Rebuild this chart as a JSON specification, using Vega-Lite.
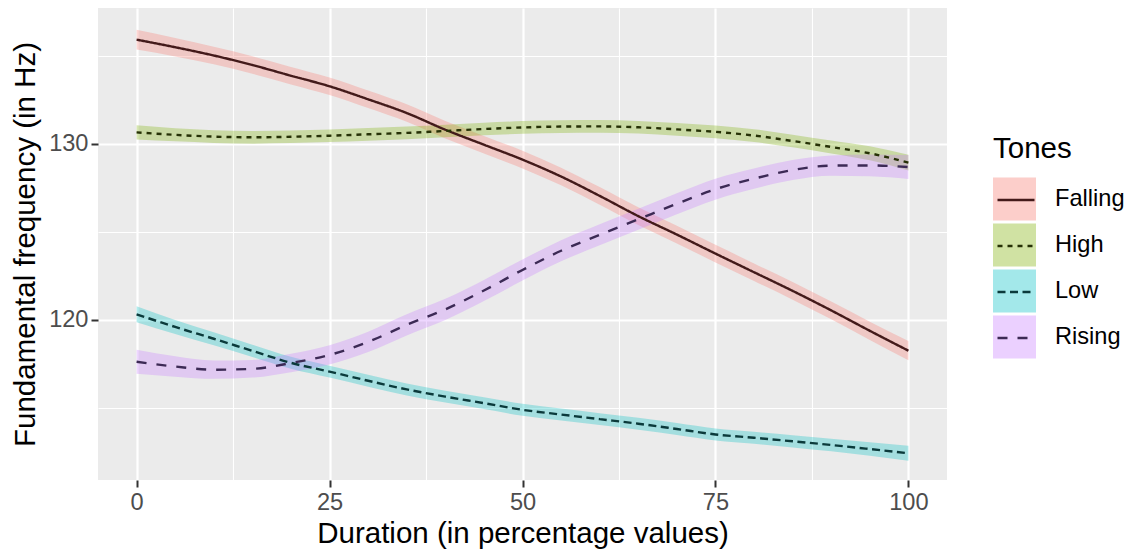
{
  "$schema": "https://vega.github.io/schema/vega-lite/v6.json",
  "width": 849,
  "height": 472,
  "autosize": {"type": "none"},
  "padding": {"left": 98, "top": 8, "right": 180, "bottom": 74},
  "background": "white",
  "config": {
    "font": "Liberation Sans",
    "view": {"fill": "#EBEBEB", "stroke": null}
  },
  "data": {
    "values": [
      {"tone": "Falling", "pct": 0, "f0": 135.93, "lo": 135.37, "hi": 136.49},
      {"tone": "Falling", "pct": 5, "f0": 135.50, "lo": 134.98, "hi": 136.02},
      {"tone": "Falling", "pct": 10, "f0": 135.03, "lo": 134.53, "hi": 135.53},
      {"tone": "Falling", "pct": 15, "f0": 134.49, "lo": 133.99, "hi": 134.99},
      {"tone": "Falling", "pct": 20, "f0": 133.88, "lo": 133.38, "hi": 134.38},
      {"tone": "Falling", "pct": 25, "f0": 133.28, "lo": 132.78, "hi": 133.78},
      {"tone": "Falling", "pct": 30, "f0": 132.54, "lo": 132.04, "hi": 133.04},
      {"tone": "Falling", "pct": 35, "f0": 131.76, "lo": 131.26, "hi": 132.26},
      {"tone": "Falling", "pct": 40, "f0": 130.81, "lo": 130.31, "hi": 131.31},
      {"tone": "Falling", "pct": 45, "f0": 129.96, "lo": 129.46, "hi": 130.46},
      {"tone": "Falling", "pct": 50, "f0": 129.11, "lo": 128.61, "hi": 129.61},
      {"tone": "Falling", "pct": 55, "f0": 128.15, "lo": 127.65, "hi": 128.65},
      {"tone": "Falling", "pct": 60, "f0": 127.05, "lo": 126.55, "hi": 127.55},
      {"tone": "Falling", "pct": 65, "f0": 125.90, "lo": 125.40, "hi": 126.40},
      {"tone": "Falling", "pct": 70, "f0": 124.85, "lo": 124.35, "hi": 125.35},
      {"tone": "Falling", "pct": 75, "f0": 123.77, "lo": 123.27, "hi": 124.27},
      {"tone": "Falling", "pct": 80, "f0": 122.71, "lo": 122.21, "hi": 123.21},
      {"tone": "Falling", "pct": 85, "f0": 121.65, "lo": 121.15, "hi": 122.15},
      {"tone": "Falling", "pct": 90, "f0": 120.54, "lo": 120.04, "hi": 121.04},
      {"tone": "Falling", "pct": 95, "f0": 119.38, "lo": 118.86, "hi": 119.90},
      {"tone": "Falling", "pct": 100, "f0": 118.25, "lo": 117.70, "hi": 118.80},

      {"tone": "High", "pct": 0, "f0": 130.66, "lo": 130.26, "hi": 131.06},
      {"tone": "High", "pct": 5, "f0": 130.52, "lo": 130.15, "hi": 130.89},
      {"tone": "High", "pct": 10, "f0": 130.42, "lo": 130.06, "hi": 130.78},
      {"tone": "High", "pct": 15, "f0": 130.38, "lo": 130.02, "hi": 130.74},
      {"tone": "High", "pct": 20, "f0": 130.41, "lo": 130.05, "hi": 130.77},
      {"tone": "High", "pct": 25, "f0": 130.47, "lo": 130.11, "hi": 130.83},
      {"tone": "High", "pct": 30, "f0": 130.55, "lo": 130.19, "hi": 130.91},
      {"tone": "High", "pct": 35, "f0": 130.63, "lo": 130.27, "hi": 130.99},
      {"tone": "High", "pct": 40, "f0": 130.74, "lo": 130.38, "hi": 131.10},
      {"tone": "High", "pct": 45, "f0": 130.85, "lo": 130.49, "hi": 131.21},
      {"tone": "High", "pct": 50, "f0": 130.94, "lo": 130.58, "hi": 131.30},
      {"tone": "High", "pct": 55, "f0": 130.99, "lo": 130.63, "hi": 131.35},
      {"tone": "High", "pct": 60, "f0": 131.00, "lo": 130.64, "hi": 131.36},
      {"tone": "High", "pct": 65, "f0": 130.95, "lo": 130.59, "hi": 131.31},
      {"tone": "High", "pct": 70, "f0": 130.83, "lo": 130.47, "hi": 131.19},
      {"tone": "High", "pct": 75, "f0": 130.69, "lo": 130.33, "hi": 131.05},
      {"tone": "High", "pct": 80, "f0": 130.48, "lo": 130.12, "hi": 130.84},
      {"tone": "High", "pct": 85, "f0": 130.17, "lo": 129.81, "hi": 130.53},
      {"tone": "High", "pct": 90, "f0": 129.83, "lo": 129.46, "hi": 130.20},
      {"tone": "High", "pct": 95, "f0": 129.47, "lo": 129.07, "hi": 129.87},
      {"tone": "High", "pct": 100, "f0": 128.94, "lo": 128.49, "hi": 129.39},

      {"tone": "Low", "pct": 0, "f0": 120.32, "lo": 119.87, "hi": 120.77},
      {"tone": "Low", "pct": 5, "f0": 119.60, "lo": 119.20, "hi": 120.00},
      {"tone": "Low", "pct": 10, "f0": 118.93, "lo": 118.56, "hi": 119.30},
      {"tone": "Low", "pct": 15, "f0": 118.24, "lo": 117.89, "hi": 118.59},
      {"tone": "Low", "pct": 20, "f0": 117.56, "lo": 117.22, "hi": 117.90},
      {"tone": "Low", "pct": 25, "f0": 117.06, "lo": 116.72, "hi": 117.40},
      {"tone": "Low", "pct": 30, "f0": 116.54, "lo": 116.20, "hi": 116.88},
      {"tone": "Low", "pct": 35, "f0": 116.05, "lo": 115.71, "hi": 116.39},
      {"tone": "Low", "pct": 40, "f0": 115.64, "lo": 115.30, "hi": 115.98},
      {"tone": "Low", "pct": 45, "f0": 115.27, "lo": 114.93, "hi": 115.61},
      {"tone": "Low", "pct": 50, "f0": 114.89, "lo": 114.55, "hi": 115.23},
      {"tone": "Low", "pct": 55, "f0": 114.62, "lo": 114.28, "hi": 114.96},
      {"tone": "Low", "pct": 60, "f0": 114.36, "lo": 114.02, "hi": 114.70},
      {"tone": "Low", "pct": 65, "f0": 114.10, "lo": 113.76, "hi": 114.44},
      {"tone": "Low", "pct": 70, "f0": 113.80, "lo": 113.46, "hi": 114.14},
      {"tone": "Low", "pct": 75, "f0": 113.49, "lo": 113.15, "hi": 113.83},
      {"tone": "Low", "pct": 80, "f0": 113.30, "lo": 112.96, "hi": 113.64},
      {"tone": "Low", "pct": 85, "f0": 113.10, "lo": 112.75, "hi": 113.45},
      {"tone": "Low", "pct": 90, "f0": 112.89, "lo": 112.53, "hi": 113.25},
      {"tone": "Low", "pct": 95, "f0": 112.66, "lo": 112.28, "hi": 113.04},
      {"tone": "Low", "pct": 100, "f0": 112.42, "lo": 112.00, "hi": 112.84},

      {"tone": "Rising", "pct": 0, "f0": 117.62, "lo": 116.94, "hi": 118.30},
      {"tone": "Rising", "pct": 5, "f0": 117.35, "lo": 116.77, "hi": 117.93},
      {"tone": "Rising", "pct": 10, "f0": 117.17, "lo": 116.65, "hi": 117.69},
      {"tone": "Rising", "pct": 15, "f0": 117.22, "lo": 116.72, "hi": 117.72},
      {"tone": "Rising", "pct": 20, "f0": 117.55, "lo": 117.03, "hi": 118.07},
      {"tone": "Rising", "pct": 25, "f0": 118.01, "lo": 117.46, "hi": 118.56},
      {"tone": "Rising", "pct": 30, "f0": 118.75, "lo": 118.17, "hi": 119.33},
      {"tone": "Rising", "pct": 35, "f0": 119.72, "lo": 119.12, "hi": 120.32},
      {"tone": "Rising", "pct": 40, "f0": 120.60, "lo": 120.00, "hi": 121.20},
      {"tone": "Rising", "pct": 45, "f0": 121.67, "lo": 121.07, "hi": 122.27},
      {"tone": "Rising", "pct": 50, "f0": 122.84, "lo": 122.24, "hi": 123.44},
      {"tone": "Rising", "pct": 55, "f0": 123.93, "lo": 123.33, "hi": 124.53},
      {"tone": "Rising", "pct": 60, "f0": 124.84, "lo": 124.24, "hi": 125.44},
      {"tone": "Rising", "pct": 65, "f0": 125.72, "lo": 125.12, "hi": 126.32},
      {"tone": "Rising", "pct": 70, "f0": 126.60, "lo": 126.00, "hi": 127.20},
      {"tone": "Rising", "pct": 75, "f0": 127.43, "lo": 126.83, "hi": 128.03},
      {"tone": "Rising", "pct": 80, "f0": 128.03, "lo": 127.45, "hi": 128.61},
      {"tone": "Rising", "pct": 85, "f0": 128.52, "lo": 127.95, "hi": 129.09},
      {"tone": "Rising", "pct": 90, "f0": 128.77, "lo": 128.19, "hi": 129.35},
      {"tone": "Rising", "pct": 95, "f0": 128.78, "lo": 128.16, "hi": 129.40},
      {"tone": "Rising", "pct": 100, "f0": 128.69, "lo": 128.01, "hi": 129.37}
    ]
  },
  "layer": [
    {
      "mark": {"type": "area", "interpolate": "monotone", "fillOpacity": 0.3},
      "encoding": {
        "x": {
          "field": "pct", "type": "quantitative",
          "scale": {"domain": [-5, 105], "nice": false, "zero": false},
          "axis": {
            "orient": "bottom", "values": [0, 25, 50, 75, 100], "format": "d",
            "grid": true, "gridColor": "white", "gridWidth": 2.2,
            "domain": false, "tickColor": "#333333", "tickSize": 7, "tickWidth": 2,
            "labelFontSize": 23.6, "labelColor": "#4D4D4D", "labelPadding": 3,
            "labelFlush": false, "labelOverlap": false,
            "title": "Duration (in percentage values)", "titleFontSize": 29.5,
            "titleFontWeight": "normal", "titleColor": "black", "titlePadding": 6
          }
        },
        "y": {
          "field": "lo", "type": "quantitative",
          "scale": {"domain": [110.9, 137.73], "nice": false, "zero": false},
          "axis": {
            "orient": "left", "values": [120, 130], "format": "d",
            "grid": true, "gridColor": "white", "gridWidth": 2.2,
            "domain": false, "tickColor": "#333333", "tickSize": 7, "tickWidth": 2,
            "labelFontSize": 23.6, "labelColor": "#4D4D4D", "labelPadding": 3,
            "labelFlush": false, "labelOverlap": false,
            "title": "Fundamental frequency (in Hz)", "titleFontSize": 29.5,
            "titleFontWeight": "normal", "titleColor": "black", "titlePadding": 8
          }
        },
        "y2": {"field": "hi"},
        "fill": {
          "field": "tone", "type": "nominal",
          "scale": {
            "domain": ["Falling", "High", "Low", "Rising"],
            "range": ["#F8766D", "#7CAE00", "#00BFC4", "#C77CFF"]
          },
          "legend": {
            "orient": "none", "legendX": 895, "legendY": 127, "padding": 0,
            "title": "Tones", "titleFontSize": 29.5, "titleFontWeight": "normal",
            "titleColor": "black", "titlePadding": 13,
            "symbolType": "square", "symbolSize": 1849, "symbolOpacity": 0.36,
            "symbolStrokeWidth": 0, "rowPadding": 3,
            "labelFontSize": 23.6, "labelColor": "black", "labelOffset": 19
          }
        }
      }
    },
    {
      "mark": {"type": "line", "interpolate": "monotone", "strokeWidth": 2.4},
      "encoding": {
        "x": {
          "field": "pct", "type": "quantitative",
          "axis": {
            "orient": "bottom", "values": [12.5, 37.5, 62.5, 87.5],
            "grid": true, "gridColor": "white", "gridWidth": 1.1,
            "labels": false, "ticks": false, "domain": false, "title": null
          }
        },
        "y": {
          "field": "f0", "type": "quantitative",
          "axis": {
            "orient": "left", "values": [115, 125, 135],
            "grid": true, "gridColor": "white", "gridWidth": 1.1,
            "labels": false, "ticks": false, "domain": false, "title": null
          }
        },
        "stroke": {
          "field": "tone", "type": "nominal",
          "scale": {"range": ["#431A1A", "#263106", "#0B3A3B", "#3C2A55"]},
          "legend": {
            "orient": "none", "legendX": 898, "legendY": 172, "padding": 0,
            "title": null,
            "symbolType": "stroke", "symbolSize": 1369, "symbolStrokeWidth": 2.4,
            "rowPadding": 14, "labelFontSize": 23.6, "labelExpr": "''"
          }
        },
        "strokeDash": {
          "field": "tone", "type": "nominal",
          "scale": {"range": [[1, 0], [5, 5], [8, 4.5], [10, 10]]},
          "legend": {
            "orient": "none", "legendX": 898, "legendY": 172, "padding": 0,
            "title": null,
            "symbolType": "stroke", "symbolSize": 1369, "symbolStrokeWidth": 2.4,
            "rowPadding": 14, "labelFontSize": 23.6, "labelExpr": "''"
          }
        }
      }
    }
  ],
  "resolve": {"axis": {"x": "independent", "y": "independent"}}
}
